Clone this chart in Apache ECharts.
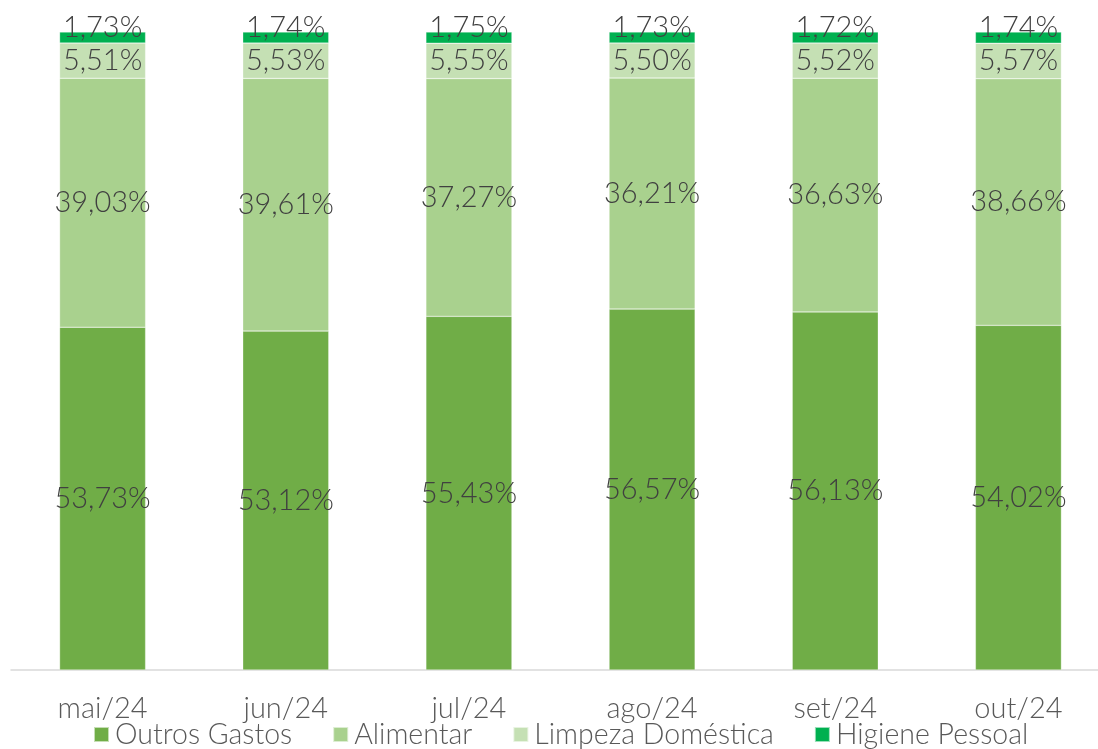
<!DOCTYPE html>
<html>
<head>
<meta charset="utf-8">
<script src="https://cdn.jsdelivr.net/npm/echarts@6/dist/echarts.min.js"></script>
<style>
  html, body { margin: 0; padding: 0; background: #ffffff; overflow: hidden; }
  #chart { width: 1110px; height: 749px; }
</style>
</head>
<body>
<div id="chart"></div>
<script>
// Monthly share of spending by category (percent of total)
const months = ['mai/24', 'jun/24', 'jul/24', 'ago/24', 'set/24', 'out/24'];
const outrosGastos = [53.73, 53.12, 55.43, 56.57, 56.13, 54.02];
const alimentar = [39.03, 39.61, 37.27, 36.21, 36.63, 38.66];
const limpezaDomestica = [5.51, 5.53, 5.55, 5.50, 5.52, 5.57];
const higienePessoal = [1.73, 1.74, 1.75, 1.73, 1.72, 1.74];

const FONT = 'Lato';
const fmt = p => p.value.toFixed(2).replace('.', ',') + '%';

function layer(name, data, color, labelOffset) {
  return {
    name: name,
    type: 'bar',
    stack: 'total',
    data: data,
    barWidth: 86,
    itemStyle: { color: color, borderColor: 'rgba(255,255,255,0.6)', borderWidth: 0.5 },
    label: {
      show: true,
      position: 'inside',
      offset: labelOffset || [0, 0],
      formatter: fmt,
      color: '#404040',
      fontFamily: FONT,
      fontSize: 29,
      fontWeight: 300
    },
    emphasis: { disabled: true }
  };
}

const chart = echarts.init(document.getElementById('chart'));
chart.setOption({
  animation: false,
  grid: { left: 11, right: 0, top: 32, bottom: 79, containLabel: false },
  legend: {
    bottom: -5,
    left: 88,
    itemWidth: 15,
    itemHeight: 15,
    itemGap: 40,
    icon: 'rect',
    textStyle: { color: '#595959', fontFamily: FONT, fontSize: 28.5, fontWeight: 300, padding: [0, 0, 0, 1] },
    data: ['Outros Gastos', 'Alimentar', 'Limpeza Doméstica', 'Higiene Pessoal']
  },
  xAxis: {
    type: 'category',
    data: months,
    axisLine: { show: true, lineStyle: { color: '#D9D9D9', width: 1.5 } },
    axisTick: { show: false },
    axisLabel: { color: '#595959', fontFamily: FONT, fontSize: 29, fontWeight: 300, margin: 24 }
  },
  yAxis: {
    type: 'value',
    min: 0,
    max: 100,
    show: false,
    splitLine: { show: false }
  },
  series: [
    layer('Outros Gastos', outrosGastos, '#70AD47'),
    layer('Alimentar', alimentar, '#A9D18E'),
    layer('Limpeza Doméstica', limpezaDomestica, '#C5E0B4'),
    layer('Higiene Pessoal', higienePessoal, '#00B050', [0, -10])
  ]
});
</script>
</body>
</html>
